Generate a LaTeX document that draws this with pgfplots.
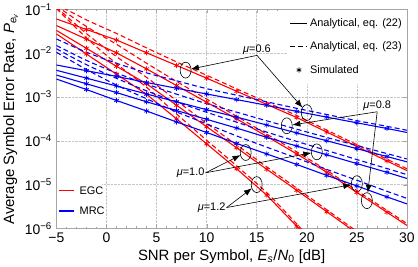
\documentclass[border=0pt]{standalone}
\usepackage{fontspec}
\setmainfont{Liberation Sans}
\usepackage{pgfplots}
\pgfplotsset{compat=1.18}
\usepackage{pgfplotstable}
\usetikzlibrary{arrows.meta}
\definecolor{egcred}{rgb}{1,0,0}
\definecolor{mrcblue}{rgb}{0,0,1}

\pgfplotstableread{
x A B C D
-5 6.03e-2 4.27e-2 3.31e-2 2.75e-2
-2 3.47e-2 2.09e-2 1.29e-2 9.55e-3
1 2.00e-2 1.02e-2 5.01e-3 3.31e-3
4 1.02e-2 4.37e-3 2.00e-3 1.15e-3
7 5.25e-3 1.82e-3 6.46e-4 3.16e-4
10 2.69e-3 7.59e-4 2.09e-4 8.51e-5
13 1.35e-3 3.16e-4 6.92e-5 2.29e-5
16 6.76e-4 1.26e-4 2.24e-5 5.75e-6
19 3.39e-4 5.01e-5 7.41e-6 1.12e-6
22 1.58e-4 1.91e-5 2.40e-6 2.00e-7
25 7.41e-5 6.61e-6 7.76e-7 3.98e-8
28 3.47e-5 2.34e-6 2.57e-7 7.94e-9
30 2.09e-5 1.17e-6 1.20e-7 2.51e-9
}\egcsolid

\pgfplotstableread{
x A B C D
-5 1.32e-1 1.20e-1 1.12e-1 1.05e-1
-2 5.75e-2 4.06e-2 2.80e-2 2.23e-2
1 2.82e-2 1.59e-2 8.32e-3 5.74e-3
4 1.32e-2 5.90e-3 2.81e-3 1.66e-3
7 6.31e-3 2.26e-3 8.24e-4 4.10e-4
10 3.13e-3 8.99e-4 2.51e-4 1.03e-4
13 1.53e-3 3.63e-4 8.02e-5 2.67e-5
16 7.59e-4 1.42e-4 2.54e-5 6.55e-6
19 3.76e-4 5.58e-5 8.30e-6 1.26e-6
22 1.75e-4 2.11e-5 2.66e-6 2.22e-7
25 8.17e-5 7.29e-6 8.57e-7 4.41e-8
28 3.81e-5 2.58e-6 2.83e-7 8.75e-9
30 2.30e-5 1.29e-6 1.32e-7 2.76e-9
}\egcdashed

\pgfplotstableread{
x A B C D
-5 5.37e-3 4.07e-3 3.16e-3 2.57e-3
-2 3.98e-3 2.69e-3 2.00e-3 1.48e-3
1 2.95e-3 1.78e-3 1.26e-3 8.32e-4
4 2.14e-3 1.17e-3 7.76e-4 4.79e-4
7 1.58e-3 7.76e-4 4.90e-4 2.69e-4
10 1.17e-3 5.13e-4 3.09e-4 1.55e-4
13 8.71e-4 3.47e-4 1.95e-4 8.71e-5
16 6.46e-4 2.29e-4 1.20e-4 5.01e-5
19 4.68e-4 1.51e-4 7.59e-5 2.88e-5
22 3.47e-4 1.00e-4 4.79e-5 1.62e-5
25 2.57e-4 6.61e-5 3.02e-5 9.33e-6
28 1.91e-4 4.37e-5 1.91e-5 5.25e-6
30 1.55e-4 3.31e-5 1.38e-5 3.63e-6
}\mrcsolid

\pgfplotstableread{
x A B C D
-5 2.11e-2 1.50e-2 1.26e-2 1.05e-2
-2 1.05e-2 6.84e-3 5.46e-3 4.24e-3
1 5.89e-3 3.53e-3 2.66e-3 1.87e-3
4 3.55e-3 1.97e-3 1.38e-3 9.10e-4
7 2.34e-3 1.16e-3 7.69e-4 4.56e-4
10 1.55e-3 7.03e-4 4.47e-4 2.43e-4
13 1.10e-3 4.50e-4 2.66e-4 1.29e-4
16 7.76e-4 2.86e-4 1.58e-4 7.16e-5
19 5.50e-4 1.84e-4 9.68e-5 4.02e-5
22 3.98e-4 1.19e-4 6.00e-5 2.22e-5
25 2.88e-4 7.80e-5 3.73e-5 1.26e-5
28 2.14e-4 5.11e-5 2.33e-5 7.05e-6
30 1.74e-4 3.85e-5 1.69e-5 4.85e-6
}\mrcdashed

\pgfplotsset{
  sol/.style={line width=1.1pt, no markers},
  das/.style={line width=1.1pt, no markers, dash pattern=on 5pt off 3pt, smooth},
  sim/.style={only marks, mark=asterisk, mark size=2.6pt, mark options={line width=0.8pt}, restrict x to domain=-3:29},
}
\tikzset{
  ann/.style={line width=0.6pt, -{Latex[length=8pt,width=6pt]}},
  ell/.style={line width=0.6pt},
  mu/.style={font=\fontsize{11}{11}\selectfont, inner sep=1pt},
  lg/.style={font=\fontsize{11}{11}\selectfont, inner sep=0pt, anchor=west}
}

\begin{document}
\begin{tikzpicture}
\begin{axis}[
  width=352pt, height=220pt, scale only axis,
  ymode=log, xmin=-5, xmax=30, ymin=1e-6, ymax=1e-1,
  xtick={-5,0,5,10,15,20,25,30},
  xticklabels={−5,0,5,10,15,20,25,30},
  ytick={1e-6,1e-5,1e-4,1e-3,1e-2,1e-1},
  yticklabels={10\textsuperscript{−6},10\textsuperscript{−5},10\textsuperscript{−4},10\textsuperscript{−3},10\textsuperscript{−2},10\textsuperscript{−1}},
  minor x tick num=4, yminorticks=false,
  tick align=inside, major tick length=4pt, minor tick length=2pt,
  grid=major, major grid style={densely dotted, gray!45, line width=0.5pt},
  axis line style={gray!70}, tick style={gray!70},
  ticklabel style={font=\fontsize{14}{14}\selectfont},
  xticklabel style={yshift=-1pt},
  yticklabel style={xshift=-1pt},
  label style={font=\fontsize{15}{15}\selectfont},
  xlabel={SNR per Symbol, \textit{E}\textsubscript{\textit{s}}/\textit{N}\textsubscript{0} [dB]},
  ylabel={Average Symbol Error Rate, \textit{P}\textsubscript{\textit{e}\textsubscript{\textit{v}}}},
  /pgf/number format/assume math mode=true,
  legend style={at={(1,1)}, anchor=north east, draw=none, fill=white,
    font=\fontsize{11}{11}\selectfont, row sep=10pt, inner xsep=3pt, inner ysep=7pt},
  legend cell align=left,
]
% white box of the EGC/MRC key
\fill[white] (axis cs:-4.9,1.07e-6) rectangle (axis cs:-0.4,1.55e-5);

% EGC
\addplot[egcred, sol, forget plot] table[x=x,y=A]{\egcsolid};
\addplot[egcred, sol, forget plot] table[x=x,y=B]{\egcsolid};
\addplot[egcred, sol, forget plot] table[x=x,y=C]{\egcsolid};
\addplot[egcred, sol, forget plot] table[x=x,y=D]{\egcsolid};
\addplot[egcred, das, forget plot] table[x=x,y=A]{\egcdashed};
\addplot[egcred, das, forget plot] table[x=x,y=B]{\egcdashed};
\addplot[egcred, das, forget plot] table[x=x,y=C]{\egcdashed};
\addplot[egcred, das, forget plot] table[x=x,y=D]{\egcdashed};
\addplot[egcred, sim, forget plot] table[x=x,y=A]{\egcsolid};
\addplot[egcred, sim, forget plot] table[x=x,y=B]{\egcsolid};
\addplot[egcred, sim, forget plot] table[x=x,y=C]{\egcsolid};
\addplot[egcred, sim, forget plot] table[x=x,y=D]{\egcsolid};
% MRC
\addplot[mrcblue, sol, forget plot] table[x=x,y=A]{\mrcsolid};
\addplot[mrcblue, sol, forget plot] table[x=x,y=B]{\mrcsolid};
\addplot[mrcblue, sol, forget plot] table[x=x,y=C]{\mrcsolid};
\addplot[mrcblue, sol, forget plot] table[x=x,y=D]{\mrcsolid};
\addplot[mrcblue, das, forget plot] table[x=x,y=A]{\mrcdashed};
\addplot[mrcblue, das, forget plot] table[x=x,y=B]{\mrcdashed};
\addplot[mrcblue, das, forget plot] table[x=x,y=C]{\mrcdashed};
\addplot[mrcblue, das, forget plot] table[x=x,y=D]{\mrcdashed};
\addplot[mrcblue, sim, forget plot] table[x=x,y=A]{\mrcsolid};
\addplot[mrcblue, sim, forget plot] table[x=x,y=B]{\mrcsolid};
\addplot[mrcblue, sim, forget plot] table[x=x,y=C]{\mrcsolid};
\addplot[mrcblue, sim, forget plot] table[x=x,y=D]{\mrcsolid};

% key samples (EGC / MRC)
\addplot[egcred, sol, forget plot] coordinates {(-4.7,7.3e-6) (-3.2,7.3e-6)};
\addplot[mrcblue, line width=1.4pt, no markers, forget plot] coordinates {(-4.7,2.49e-6) (-3.2,2.49e-6)};

% annotations
\draw[ell] (axis cs:7.9,4.1e-3) ellipse [x radius=5.5pt, y radius=8pt];
\draw[ell] (axis cs:20,4.4e-4) ellipse [x radius=5.5pt, y radius=8pt];
\draw[ell] (axis cs:18,2.2e-4) ellipse [x radius=5.5pt, y radius=8pt];
\draw[ell] (axis cs:26,4.3e-6) ellipse [x radius=5.5pt, y radius=8pt];
\draw[ell] (axis cs:13.9,5.4e-5) ellipse [x radius=5.5pt, y radius=8pt];
\draw[ell] (axis cs:21,5.6e-5) ellipse [x radius=5.5pt, y radius=8pt];
\draw[ell] (axis cs:15,1e-5) ellipse [x radius=5.5pt, y radius=8pt];
\draw[ell] (axis cs:25,1.05e-5) ellipse [x radius=5.5pt, y radius=8pt];

\draw[ann, shorten >=5.5pt] (axis cs:15.03,8.9e-3) -- (axis cs:7.9,4.1e-3);
\draw[ann, shorten >=6.6pt] (axis cs:15.03,8.9e-3) -- (axis cs:20,4.4e-4);
\draw[ann, shorten >=5.7pt] (axis cs:27.03,4.6e-4) -- (axis cs:18,2.2e-4);
\draw[ann, shorten >=8pt] (axis cs:27.03,4.6e-4) -- (axis cs:26,4.3e-6);
\draw[ann, shorten >=5.8pt] (axis cs:9.9,1.86e-5) -- (axis cs:13.9,5.4e-5);
\draw[ann, shorten >=5.6pt] (axis cs:9.9,1.86e-5) -- (axis cs:21,5.6e-5);
\draw[ann, shorten >=6.1pt] (axis cs:12,3.0e-6) -- (axis cs:15,1e-5);
\draw[ann, shorten >=5.7pt] (axis cs:12,3.0e-6) -- (axis cs:25,1.05e-5);

\node[mu, anchor=south] at (axis cs:15.03,8.9e-3) {\textit{μ}=0.6};
\node[mu, anchor=south] at (axis cs:27.03,4.6e-4) {\textit{μ}=0.8};
\node[mu, anchor=east] at (axis cs:9.9,1.86e-5) {\textit{μ}=1.0};
\node[mu, anchor=east] at (axis cs:12,3.0e-6) {\textit{μ}=1.2};

\node[lg] at (axis cs:-2.7,7.3e-6) {EGC};
\node[lg] at (axis cs:-2.7,2.49e-6) {MRC};

\addlegendimage{black, line width=1.1pt}
\addlegendentry{Analytical, eq. (22)}
\addlegendimage{black, line width=1.1pt, dash pattern=on 5pt off 3pt}
\addlegendentry{Analytical, eq. (23)}
\addlegendimage{black, only marks, mark=asterisk, mark size=2.6pt, mark options={line width=0.8pt}}
\addlegendentry{Simulated}
\end{axis}
\end{tikzpicture}
\end{document}
